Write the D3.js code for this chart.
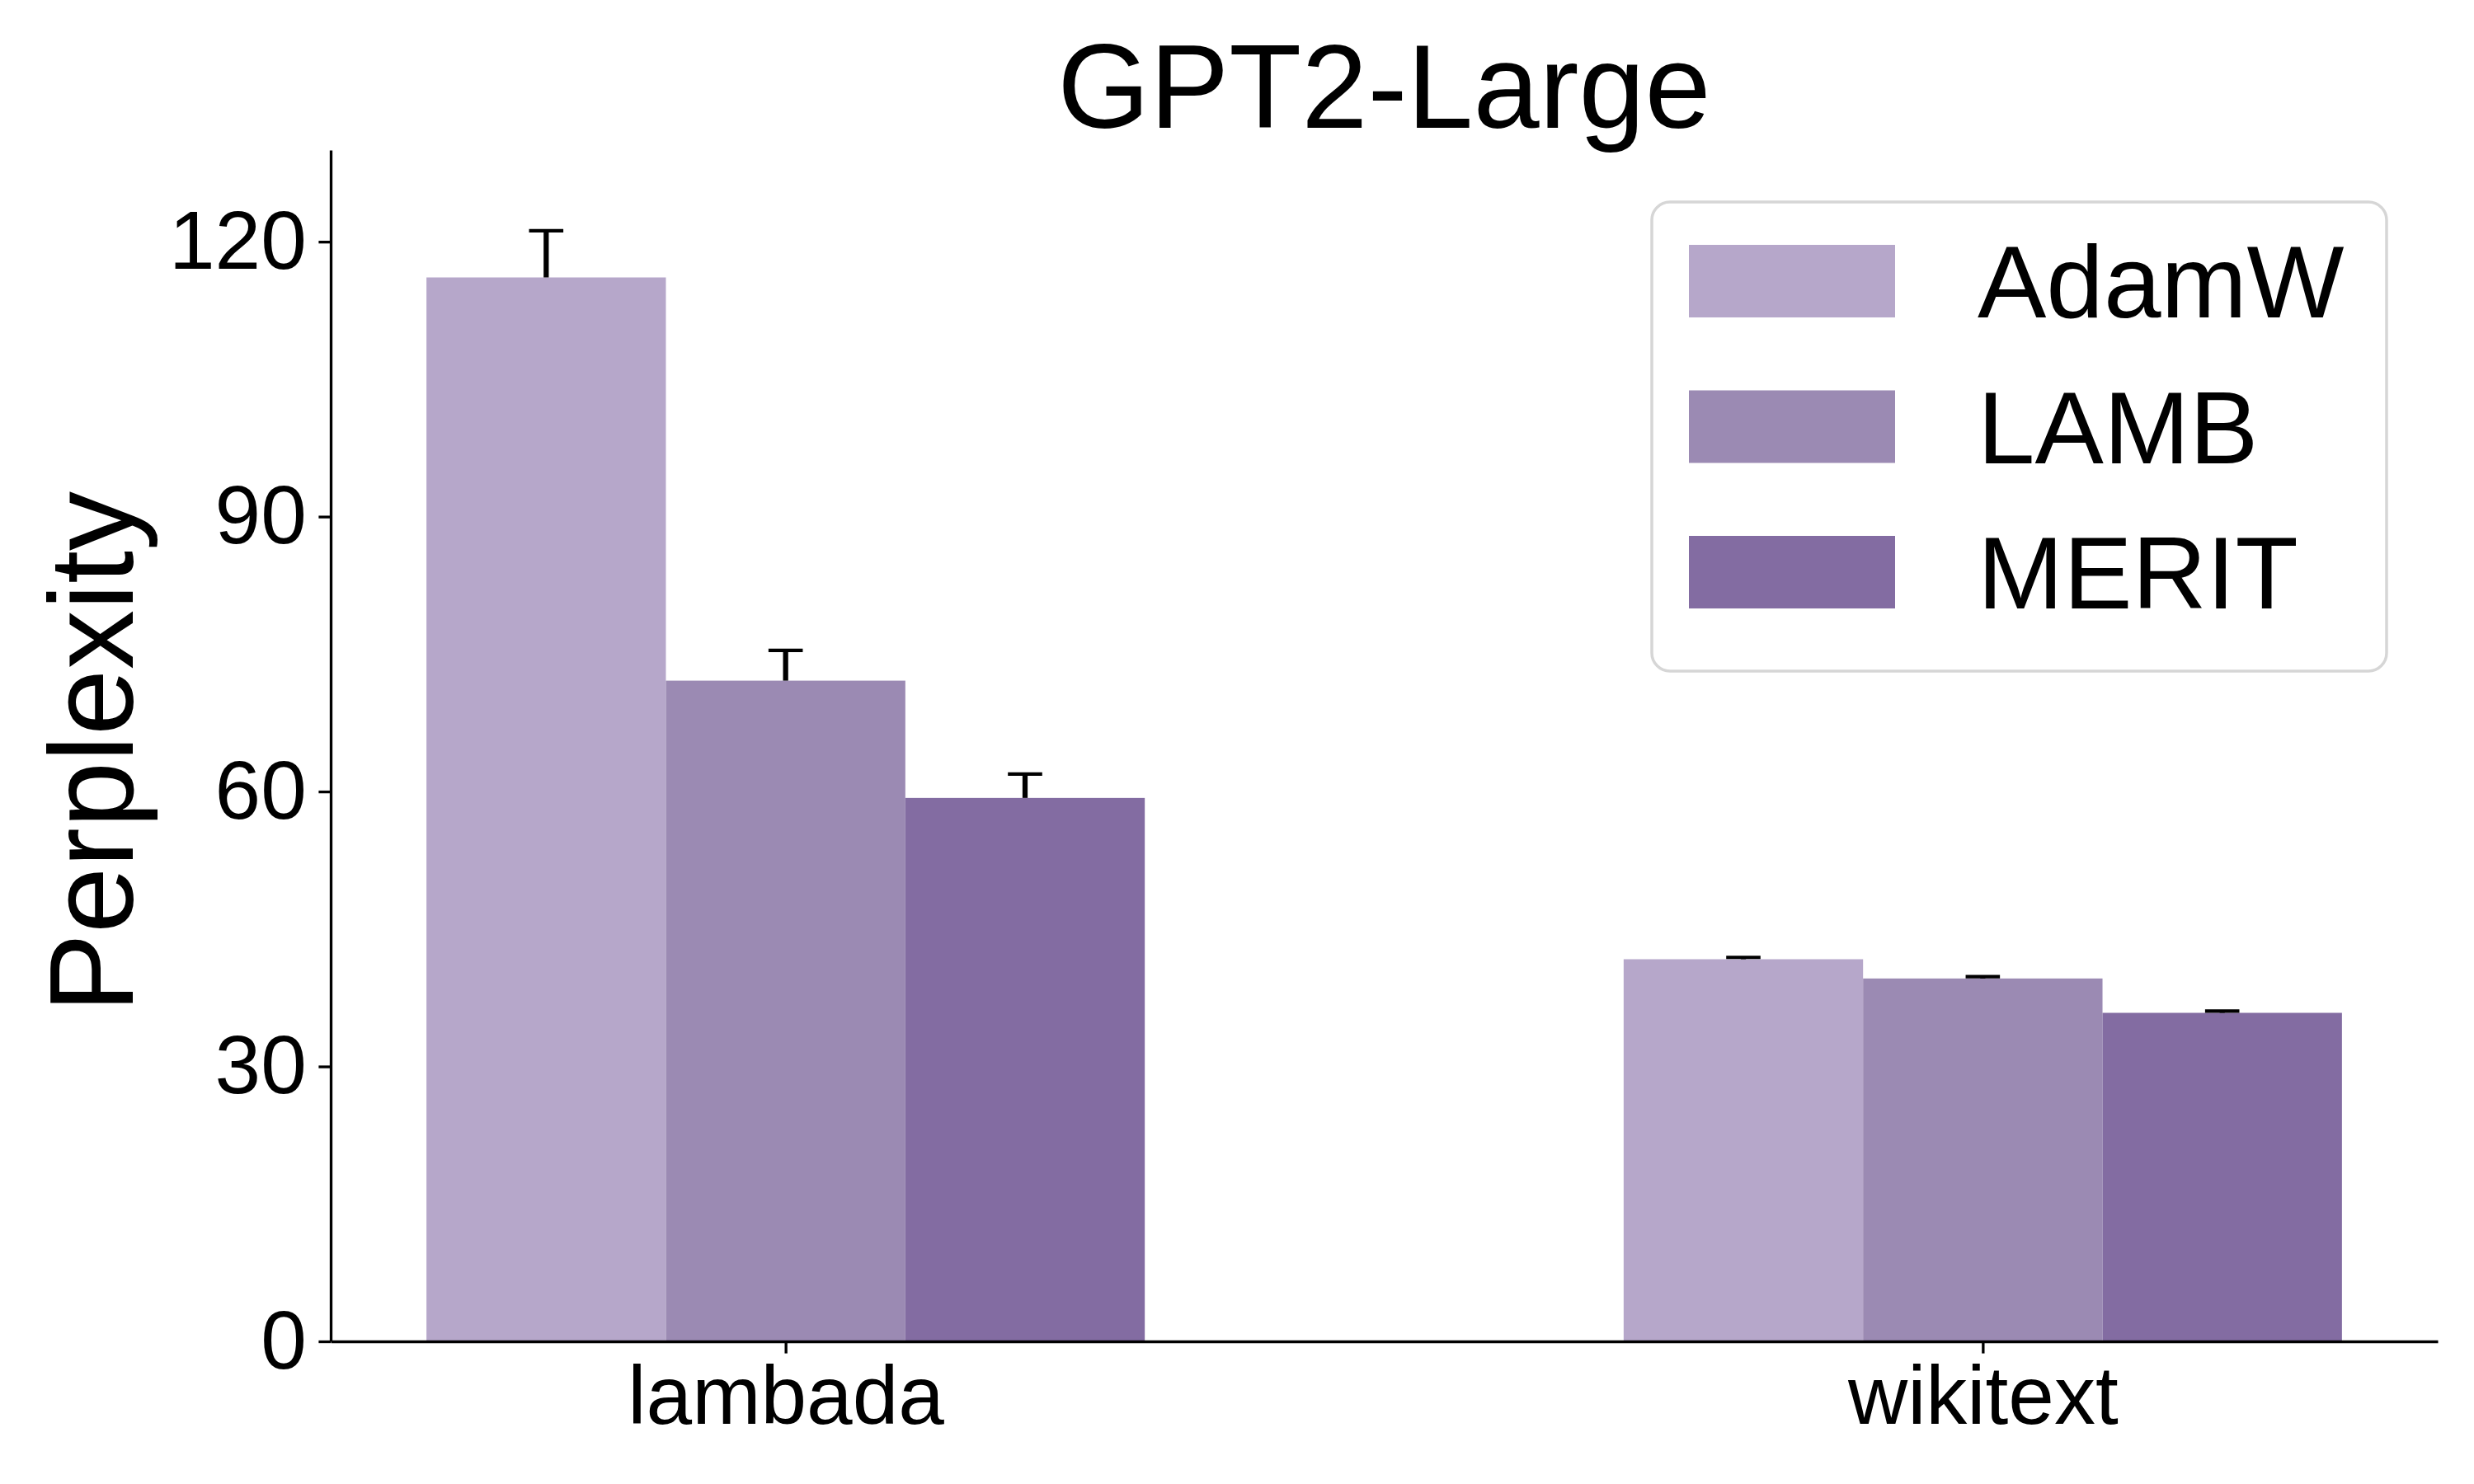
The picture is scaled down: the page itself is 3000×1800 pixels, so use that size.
<!DOCTYPE html>
<html>
<head>
<meta charset="utf-8">
<script src="https://cdn.jsdelivr.net/npm/d3@7"></script>
<style>
  html, body { margin: 0; padding: 0; background: #fff; }
  svg { display: block; font-family: "Liberation Sans", Arial, sans-serif; }
</style>
</head>
<body>
<div id="chart"></div>
<script>
// data
var datasets = ["lambada", "wikitext"]
var optimizers = ["AdamW", "LAMB", "MERIT"]
var adamw = [116.1, 41.7]
var lamb = [72.1, 39.6]
var merit = [59.3, 35.85]
var adamwErr = [5.1, 0.2]
var lambErr = [3.3, 0.2]
var meritErr = [2.6, 0.2]
var colors = ["#b6a7ca", "#9b8ab3", "#836ca2"]
var yTicks = [0, 30, 60, 90, 120]

var values = [adamw, lamb, merit]
var errs = [adamwErr, lambErr, meritErr]

var W = 3000, H = 1800
// plot area (note: "top" is a reserved window global, so use other names)
var axL = 401, axR = 2956, axT = 182, axB = 1627
var barW = 0.2

var svg = d3.select("#chart").append("svg")
    .attr("width", W)
    .attr("height", H)

svg.append("rect").attr("width", W).attr("height", H).attr("fill", "#fff")

var x = d3.scaleLinear().domain([-0.38, 1.38]).range([axL, axR])
var y = d3.scaleLinear().domain([0, 130]).range([axB, axT])

// bars
optimizers.forEach(function(name, k) {
    var off = (k - 1) * barW
    svg.append("g").selectAll("rect")
        .data(values[k])
        .enter().append("rect")
        .attr("x", function(d, i) { return x(i + off - barW / 2) })
        .attr("width", x(barW) - x(0))
        .attr("y", function(d) { return y(d) })
        .attr("height", function(d) { return y(0) - y(d) })
        .attr("fill", colors[k])
})

// error bars (upper only)
optimizers.forEach(function(name, k) {
    var off = (k - 1) * barW
    var g = svg.append("g").attr("stroke", "#000")
    values[k].forEach(function(v, i) {
        var cx = x(i + off)
        g.append("line")
            .attr("x1", cx).attr("x2", cx)
            .attr("y1", y(v)).attr("y2", y(v + errs[k][i]))
            .attr("stroke-width", 6.25)
        g.append("line")
            .attr("x1", cx - 20.8).attr("x2", cx + 20.8)
            .attr("y1", y(v + errs[k][i])).attr("y2", y(v + errs[k][i]))
            .attr("stroke-width", 4.2)
    })
})

// axes
var yAxis = d3.axisLeft(y).tickValues(yTicks).tickSize(14.6).tickPadding(14.6).tickSizeOuter(0)
var gy = svg.append("g").attr("transform", "translate(" + axL + ",0)").call(yAxis)
gy.select(".domain").attr("stroke-width", 3.33)
gy.selectAll(".tick line").attr("stroke-width", 3.33)
gy.selectAll(".tick text").attr("font-size", 100).attr("fill", "#000")
    .attr("font-family", "Liberation Sans, Arial, sans-serif")

var xAxis = d3.axisBottom(x).tickValues([0, 1])
    .tickFormat(function(d) { return datasets[d] })
    .tickSize(14.6).tickPadding(14.6).tickSizeOuter(0)
var gx = svg.append("g").attr("transform", "translate(0," + axB + ")").call(xAxis)
gx.select(".domain").attr("stroke-width", 3.33)
gx.selectAll(".tick line").attr("stroke-width", 3.33)
gx.selectAll(".tick text").attr("font-size", 100).attr("fill", "#000")
    .attr("font-family", "Liberation Sans, Arial, sans-serif")

// title and y label
svg.append("text")
    .attr("x", (axL + axR) / 2).attr("y", 155)
    .attr("text-anchor", "middle")
    .attr("font-size", 144)
    .text("GPT2-Large")

svg.append("text")
    .attr("transform", "translate(161,912) rotate(-90)")
    .attr("text-anchor", "middle")
    .attr("font-size", 144)
    .text("Perplexity")

// legend
var lg = svg.append("g")
lg.append("rect")
    .attr("x", 2003).attr("y", 245)
    .attr("width", 891).attr("height", 569)
    .attr("rx", 22).attr("ry", 22)
    .attr("fill", "#fff").attr("fill-opacity", 0.8)
    .attr("stroke", "#d6d6d6").attr("stroke-width", 3.5)

optimizers.forEach(function(name, k) {
    var yb = 385 + k * 176.5
    lg.append("rect")
        .attr("x", 2048).attr("y", yb - 88)
        .attr("width", 250).attr("height", 88)
        .attr("fill", colors[k])
    lg.append("text")
        .attr("x", 2398).attr("y", yb)
        .attr("font-size", 125)
        .text(name)
})
</script>
</body>
</html>
